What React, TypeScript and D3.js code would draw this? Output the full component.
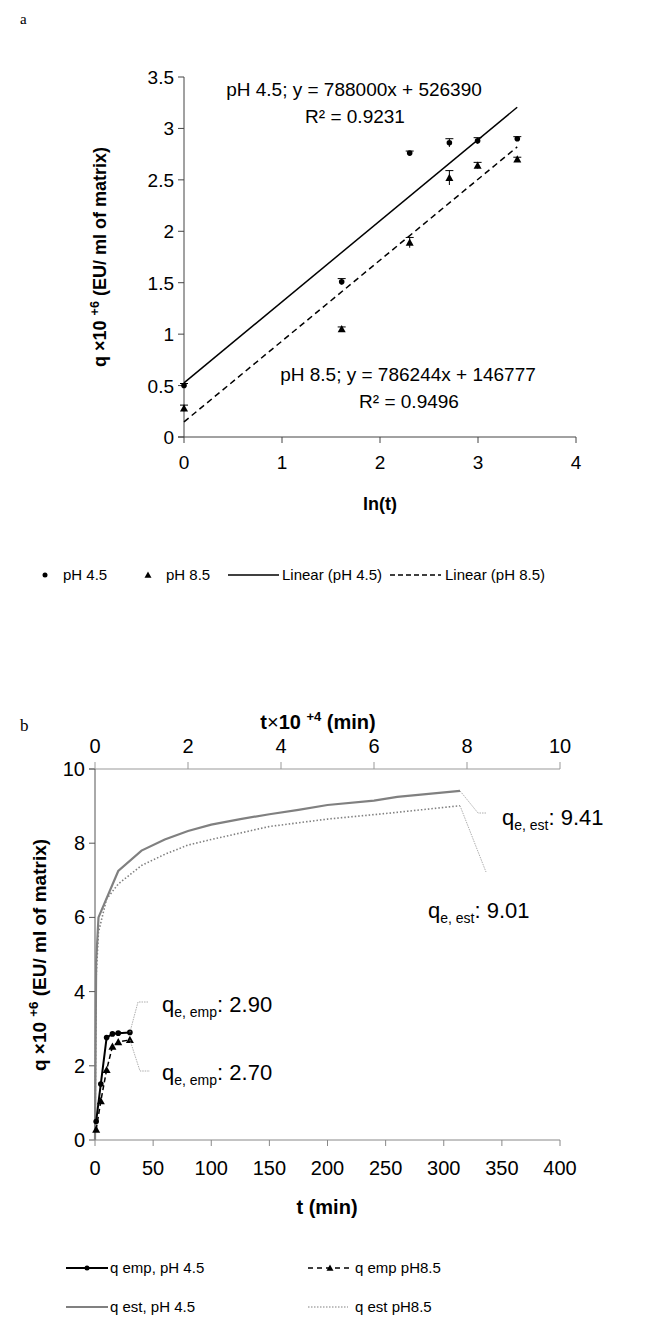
import React from 'react'
import * as d3 from 'd3'

// panel a: ln(t) vs q
const lnT = [0, 1.609, 2.303, 2.708, 2.996, 3.401]
const qA45 = [0.5, 1.51, 2.76, 2.86, 2.88, 2.9]
const qA85 = [0.28, 1.05, 1.89, 2.52, 2.64, 2.7]
const errA45 = [0.02, 0.03, 0.02, 0.04, 0.03, 0.02]
const errA85 = [0.03, 0.02, 0.05, 0.07, 0.03, 0.02]
const fit45 = { m: 0.788, b: 0.52639 }
const fit85 = { m: 0.786244, b: 0.146777 }

// panel b
const tEmp = [1, 5, 10, 15, 20, 30]
const qEmp45 = [0.5, 1.51, 2.76, 2.86, 2.88, 2.9]
const qEmp85 = [0.28, 1.05, 1.89, 2.52, 2.64, 2.7]
const tEst45 = [0, 1, 3, 20, 40, 60, 80, 100, 125, 150, 175, 200, 240, 260, 314]
const qEst45 = [0, 4.8, 6.0, 7.25, 7.8, 8.1, 8.33, 8.5, 8.65, 8.78, 8.9, 9.03, 9.15, 9.25, 9.41]
const tEst85 = [0, 1, 3, 10, 20, 40, 60, 80, 100, 150, 200, 250, 314]
const qEst85 = [0, 4.4, 5.6, 6.5, 6.9, 7.4, 7.7, 7.95, 8.1, 8.45, 8.65, 8.8, 9.01]

const F = 'Liberation Sans, Arial, sans-serif'

const Tri = ({ x, y, s = 4 }: { x: number; y: number; s?: number }) => (
  <path d={`M${x},${y - s}L${x + s},${y + s * 0.8}L${x - s},${y + s * 0.8}Z`} fill="#000" />
)

function YLabel({ x, y, size }: { x: number; y: number; size: number }) {
  return (
    <text transform={`translate(${x},${y}) rotate(-90)`} textAnchor="middle" fontFamily={F} fontWeight="bold" fontSize={size}>
      q ×10 <tspan fontSize={size * 0.7} dy={-size * 0.4}>+6</tspan>
      <tspan dy={size * 0.4}> (EU/ ml of matrix)</tspan>
    </text>
  )
}

const Q = ({ x, y, sub, val }: { x: number; y: number; sub: string; val: string }) => (
  <text x={x} y={y}>q<tspan fontSize={14} dy={5}>{sub}</tspan><tspan dy={-5}>: {val}</tspan></text>
)

export default function App() {
  const xa = d3.scaleLinear().domain([0, 4]).range([184, 576])
  const ya = d3.scaleLinear().domain([0, 3.5]).range([437, 77])
  const xb = d3.scaleLinear().domain([0, 400]).range([95, 560])
  const xbTop = d3.scaleLinear().domain([0, 10]).range([95, 560])
  const yb = d3.scaleLinear().domain([0, 10]).range([1140, 769])

  const lineA = (f: { m: number; b: number }) => `M${xa(0)},${ya(f.b)}L${xa(3.4)},${ya(f.m * 3.4 + f.b)}`
  const empLine = (q: number[]) => d3.line<number>().x((_, i) => xb(tEmp[i])).y(d => yb(d))(q)!
  const est45 = d3.line<number>().x((_, i) => xb(tEst45[i])).y(d => yb(d))(qEst45)!
  const est85 = d3.line<number>().x((_, i) => xb(tEst85[i])).y(d => yb(d))(qEst85)!
  const endX = xb(314)

  return (
    <svg width={655} height={1320} style={{ position: 'absolute', left: 0, top: 0, background: '#fff' }}>
      <text x={20} y={24} fontFamily="Liberation Serif, serif" fontSize={15}>a</text>
      <line x1={xa(0)} x2={xa(0)} y1={ya(0)} y2={ya(3.5)} stroke="#444" />
      <line x1={xa(0) - 6} x2={xa(4)} y1={ya(0)} y2={ya(0)} stroke="#444" />
      {d3.range(0, 3.51, 0.5).map(v => (
        <g key={'ya' + v}>
          <line x1={xa(0) - 6} x2={xa(0)} y1={ya(v)} y2={ya(v)} stroke="#444" />
          <text x={xa(0) - 10} y={ya(v) + 7} textAnchor="end" fontFamily={F} fontSize={19}>{v}</text>
        </g>
      ))}
      {d3.range(0, 5).map(v => (
        <g key={'xa' + v}>
          <line x1={xa(v)} x2={xa(v)} y1={ya(0)} y2={ya(0) + 6} stroke="#444" />
          <text x={xa(v)} y={ya(0) + 32} textAnchor="middle" fontFamily={F} fontSize={19}>{v}</text>
        </g>
      ))}
      <text x={xa(2)} y={510} textAnchor="middle" fontFamily={F} fontWeight="bold" fontSize={18}>ln(t)</text>
      <YLabel x={106} y={257} size={18} />
      <path d={lineA(fit45)} stroke="#000" strokeWidth={1.5} fill="none" />
      <path d={lineA(fit85)} stroke="#000" strokeWidth={1.5} fill="none" strokeDasharray="6,4" />
      {lnT.map((t, i) => (
        <g key={'pa' + i}>
          <line x1={xa(t)} x2={xa(t)} y1={ya(qA45[i] - errA45[i])} y2={ya(qA45[i] + errA45[i])} stroke="#000" />
          <line x1={xa(t) - 4} x2={xa(t) + 4} y1={ya(qA45[i] + errA45[i])} y2={ya(qA45[i] + errA45[i])} stroke="#000" />
          <circle cx={xa(t)} cy={ya(qA45[i])} r={2.8} fill="#000" />
          <line x1={xa(t)} x2={xa(t)} y1={ya(qA85[i] - errA85[i])} y2={ya(qA85[i] + errA85[i])} stroke="#000" />
          <line x1={xa(t) - 4} x2={xa(t) + 4} y1={ya(qA85[i] + errA85[i])} y2={ya(qA85[i] + errA85[i])} stroke="#000" />
          <Tri x={xa(t)} y={ya(qA85[i])} />
        </g>
      ))}
      <g fontFamily={F} fontSize={19} textAnchor="middle">
        <text x={354} y={96}>pH 4.5; y = 788000x + 526390</text>
        <text x={355} y={123}>R² = 0.9231</text>
        <text x={408} y={381}>pH 8.5; y = 786244x + 146777</text>
        <text x={409} y={408}>R² = 0.9496</text>
      </g>
      <g fontFamily={F} fontSize={15}>
        <circle cx={45} cy={575} r={2.5} />
        <text x={63} y={580}>pH 4.5</text>
        <Tri x={148} y={575} s={3.5} />
        <text x={166} y={580}>pH 8.5</text>
        <line x1={228} x2={279} y1={575} y2={575} stroke="#000" strokeWidth={1.5} />
        <text x={282} y={580}>Linear (pH 4.5)</text>
        <line x1={390} x2={441} y1={575} y2={575} stroke="#000" strokeWidth={1.5} strokeDasharray="5,3" />
        <text x={445} y={580}>Linear (pH 8.5)</text>
      </g>

      {/* panel b */}
      <text x={20} y={731} fontFamily="Liberation Serif, serif" fontSize={17}>b</text>
      <line x1={xb(0)} x2={xb(400)} y1={yb(0)} y2={yb(0)} stroke="#888" />
      <line x1={xb(0) - 6} x2={xb(400)} y1={yb(10)} y2={yb(10)} stroke="#999" />
      <line x1={xb(0)} x2={xb(0)} y1={yb(0)} y2={yb(10)} stroke="#555" />
      {d3.range(0, 11, 2).map(v => (
        <g key={'yb' + v}>
          <line x1={xb(0) - 6} x2={xb(0)} y1={yb(v)} y2={yb(v)} stroke="#555" />
          <text x={xb(0) - 10} y={yb(v) + 7} textAnchor="end" fontFamily={F} fontSize={20}>{v}</text>
        </g>
      ))}
      {d3.range(0, 401, 50).map(v => (
        <g key={'xb' + v}>
          <line x1={xb(v)} x2={xb(v)} y1={yb(0)} y2={yb(0) + 6} stroke="#888" />
          <text x={xb(v)} y={yb(0) + 35} textAnchor="middle" fontFamily={F} fontSize={20}>{v}</text>
        </g>
      ))}
      {d3.range(0, 11, 2).map(v => (
        <g key={'xt' + v}>
          <line x1={xbTop(v)} x2={xbTop(v)} y1={yb(10) - 7} y2={yb(10)} stroke="#999" />
          <text x={xbTop(v)} y={yb(10) - 16} textAnchor="middle" fontFamily={F} fontSize={20}>{v}</text>
        </g>
      ))}
      <text x={318} y={729} textAnchor="middle" fontFamily={F} fontWeight="bold" fontSize={20}>
        t<tspan fontWeight="normal">×</tspan>10 <tspan fontSize={13} dy={-8}>+4</tspan><tspan dy={8}> (min)</tspan>
      </text>
      <text x={327} y={1214} textAnchor="middle" fontFamily={F} fontWeight="bold" fontSize={20}>t (min)</text>
      <YLabel x={46} y={955} size={19} />
      <path d={est45} stroke="#808080" strokeWidth={2.2} fill="none" />
      <path d={est85} stroke="#808080" strokeWidth={1.6} fill="none" strokeDasharray="1.5,2" />
      <path d={empLine(qEmp85)} stroke="#000" strokeWidth={1.5} fill="none" strokeDasharray="5,3" />
      <path d={empLine(qEmp45)} stroke="#000" strokeWidth={2} fill="none" />
      {tEmp.map((t, i) => (
        <g key={'pb' + i}>
          <circle cx={xb(t)} cy={yb(qEmp45[i])} r={2.8} />
          <Tri x={xb(t)} y={yb(qEmp85[i])} />
        </g>
      ))}
      <g stroke="#999" strokeWidth={0.8} fill="none" strokeDasharray="1.5,1">
        <path d={`M${endX},${yb(9.41)}L${478},${813}L${487},${813}`} />
        <path d={`M${endX},${yb(9.01)}L${486},${872}`} />
        <path d={`M${xb(30)},${yb(2.9)}L${138},${1002}L${148},${1002}`} />
        <path d={`M${xb(30)},${yb(2.7)}L${140},${1071}L${150},${1071}`} />
      </g>
      <g fontFamily={F} fontSize={22}>
        <Q x={502} y={825} sub="e, est" val="9.41" />
        <Q x={428} y={918} sub="e, est" val="9.01" />
        <Q x={162} y={1012} sub="e, emp" val="2.90" />
        <Q x={162} y={1080} sub="e, emp" val="2.70" />
      </g>
      <g fontFamily={F} fontSize={15}>
        <line x1={66} x2={108} y1={1268} y2={1268} stroke="#000" strokeWidth={2} />
        <circle cx={87} cy={1268} r={2.5} />
        <text x={110} y={1273}>q emp, pH 4.5</text>
        <line x1={308} x2={352} y1={1268} y2={1268} stroke="#000" strokeWidth={1.5} strokeDasharray="5,4" />
        <Tri x={330} y={1268} s={3.5} />
        <text x={355} y={1273}>q emp pH8.5</text>
        <line x1={66} x2={108} y1={1307} y2={1307} stroke="#808080" strokeWidth={2} />
        <text x={110} y={1312}>q est, pH 4.5</text>
        <line x1={308} x2={348} y1={1307} y2={1307} stroke="#808080" strokeWidth={1.2} strokeDasharray="1.5,1.5" />
        <text x={355} y={1312}>q est pH8.5</text>
      </g>
    </svg>
  )
}
